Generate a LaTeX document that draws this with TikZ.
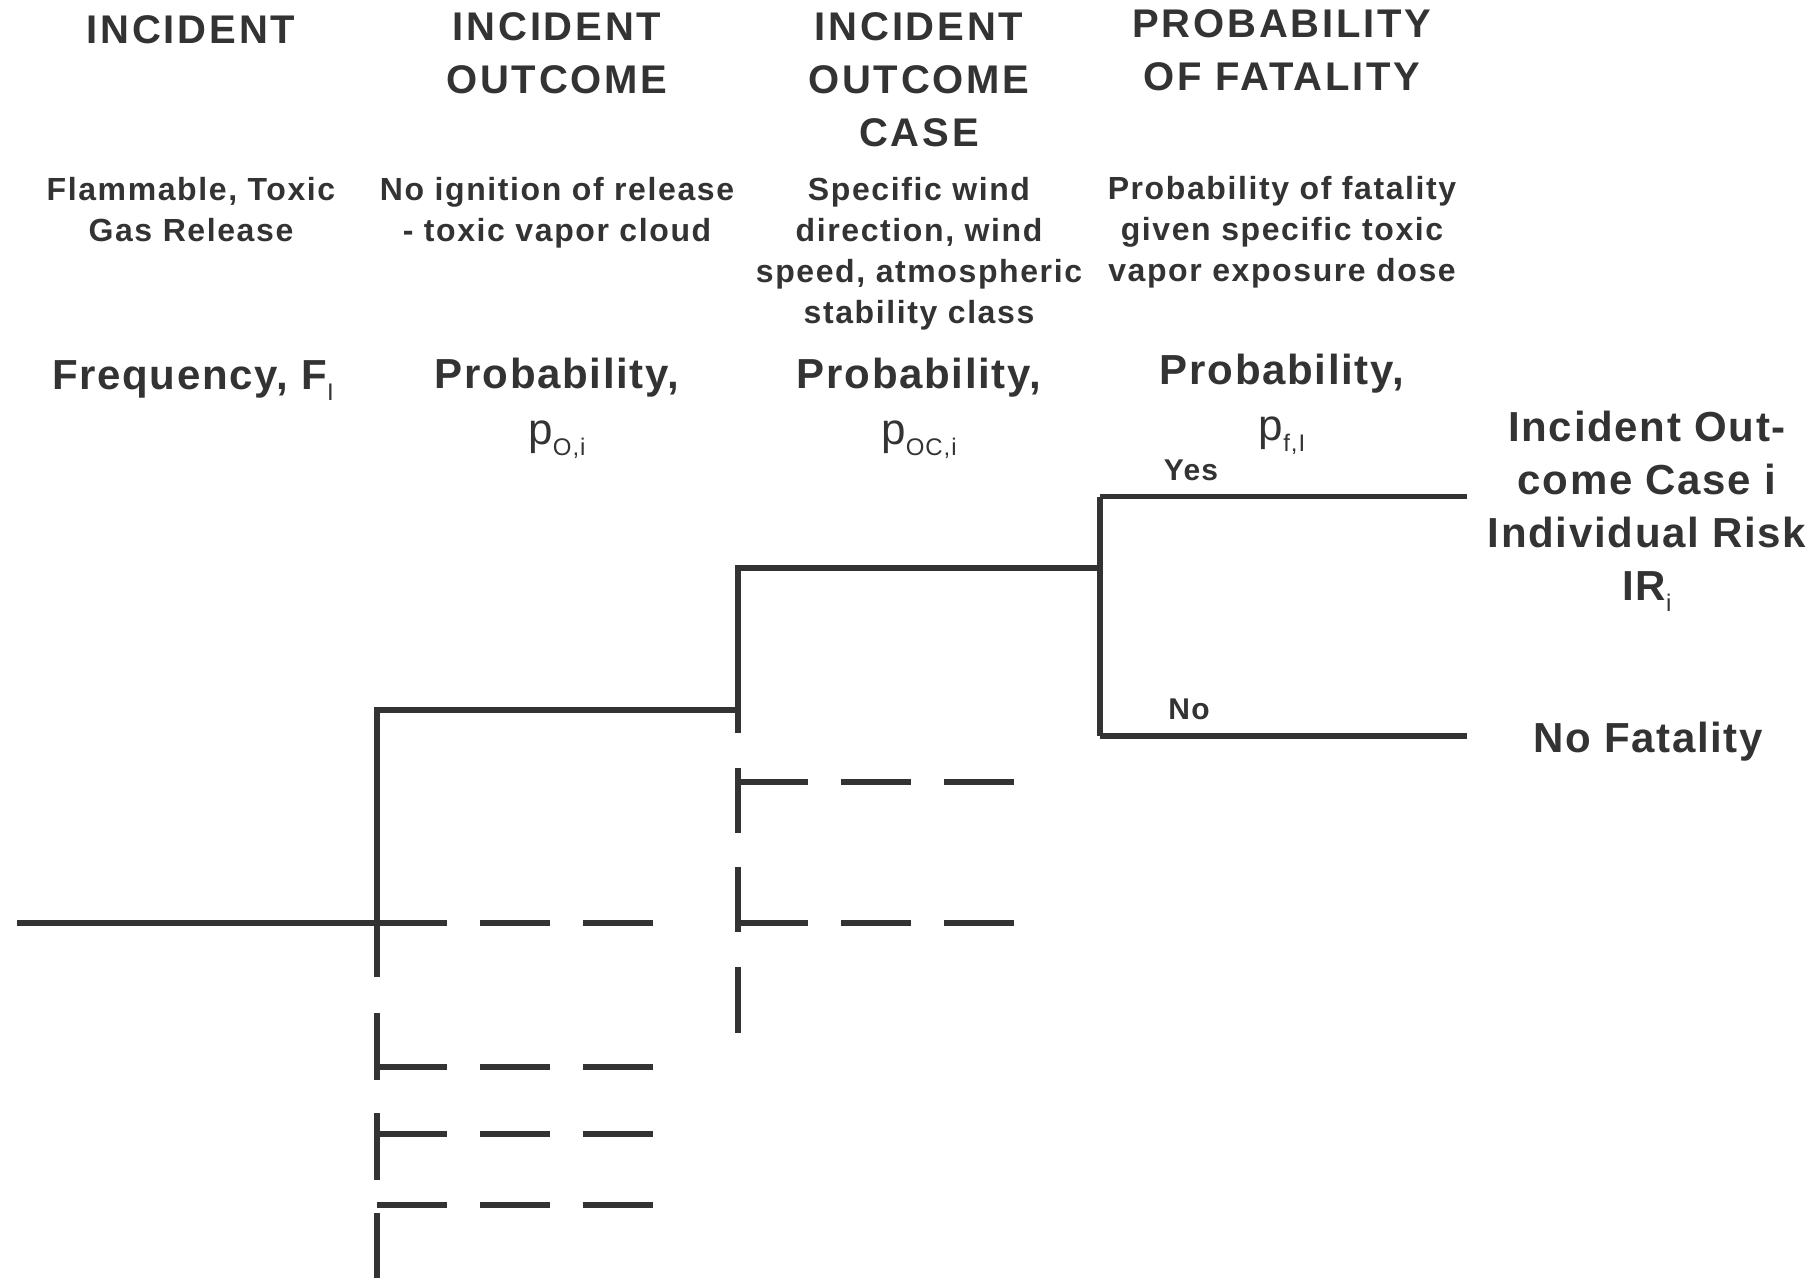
\documentclass[tikz,border=0pt]{standalone}
\usepackage{fontspec}
\setmainfont{Liberation Sans}
\newfontfamily\hdfont{Liberation Sans}[LetterSpace=7]
\newfontfamily\lbfont{Liberation Sans}[LetterSpace=4]
\newfontfamily\dsfont{Liberation Sans}[LetterSpace=5]
\definecolor{ink}{HTML}{333333}
\newcommand{\sbx}[1]{\raisebox{-0.28em}{\mdseries\fontsize{24}{24}\selectfont #1}}
\newcommand{\pvar}{{\mdseries\fontsize{44}{56}\selectfont p}}
\tikzset{
  txt/.style={align=center, anchor=base, inner sep=0pt, text=ink},
  hd/.style={txt, font={\hdfont\bfseries\fontsize{40}{53}\selectfont}},
  ds/.style={txt, font={\dsfont\bfseries\fontsize{32}{41}\selectfont}},
  lb/.style={txt, font={\lbfont\bfseries\fontsize{42}{56}\selectfont}},
  rl/.style={txt, font={\lbfont\bfseries\fontsize{42}{53}\selectfont}},
  yn/.style={txt, font={\lbfont\bfseries\fontsize{30}{36}\selectfont}},
  tline/.style={draw=ink, line width=5.5pt},
  dstub/.style={draw=ink, line width=5.5pt, dash pattern=on 70pt off 33pt}
}
\begin{document}
\begin{tikzpicture}[x=1pt, y=-1pt]
\useasboundingbox (0,0) rectangle (1819,1280);
% headers (anchor = baseline of last line)
\node[hd] (h1) at (191,43) {INCIDENT};
\node[hd] (h2) at (557,93) {INCIDENT\\OUTCOME};
\node[hd] (h3) at (919,146) {INCIDENT\\OUTCOME\\CASE};
\node[hd] (h4) at (1282,90.5) {PROBABILITY\\OF FATALITY};
% descriptions
\node[ds] (d1) at (191,241) {Flammable, Toxic\\Gas Release};
\node[ds] (d2) at (557,241) {No ignition of release\\- toxic vapor cloud};
\node[ds] (d3) at (919,323) {Specific wind\\direction, wind\\speed, atmospheric\\stability class};
\node[ds] (d4) at (1282,281) {Probability of fatality\\given specific toxic\\vapor exposure dose};
% quantities
\node[lb] (q1) at (193,389) {Frequency, F\sbx{I}};
\node[lb] (q2) at (557,444) {Probability,\\\pvar\sbx{O,i}};
\node[lb] (q3) at (919,444) {Probability,\\\pvar\sbx{OC,i}};
\node[lb] (q4) at (1282,440) {Probability,\\\pvar\sbx{f,I}};
% outcomes
\node[rl] (r1) at (1647,600) {Incident Out-\\come Case i\\Individual Risk\\IR\sbx{i}};
\node[rl] (r2) at (1648,752) {No Fatality};
\node[yn] (yes) at (1191,480) {Yes};
\node[yn] (no) at (1189,719) {No};
% tree coordinates
\coordinate (src) at (17,923);
\coordinate (A) at (377,923);
\coordinate (Atop) at (377,710);
\coordinate (B) at (738,710);
\coordinate (Btop) at (738,568);
\coordinate (C) at (1100,568);
\coordinate (Ctop) at (1100,496.5);
\coordinate (Cbot) at (1100,736);
\coordinate (yesend) at (1467,496.5);
\coordinate (noend) at (1467,736);
% solid tree
\draw[tline] (src) -- (A);
\draw[tline] (A) -- (377,977);
\draw[tline] (A) -- (Atop) -- (B);
\draw[tline] (B) -- (738,733);
\draw[tline] (B) -- (Btop) -- (C);
\draw[tline] (Ctop) -- (Cbot);
\draw[tline] (Ctop) -- (yesend);
\draw[tline] (Cbot) -- (noend);
% dashed continuation at A
\draw[dstub] (A) -- ++(276,0);
\draw[tline] (377,1013) -- (377,1080);
\draw[dstub] (377,1067) -- ++(276,0);
\draw[tline] (377,1113) -- (377,1180);
\draw[dstub] (377,1134) -- ++(276,0);
\draw[dstub] (377,1205) -- ++(276,0);
\draw[tline] (377,1213) -- (377,1278);
% dashed continuation at B
\draw[tline] (738,768) -- (738,833);
\draw[dstub] (738,782) -- ++(276,0);
\draw[tline] (738,867) -- (738,932);
\draw[dstub] (738,923) -- ++(276,0);
\draw[tline] (738,967) -- (738,1033);
\end{tikzpicture}
\end{document}
